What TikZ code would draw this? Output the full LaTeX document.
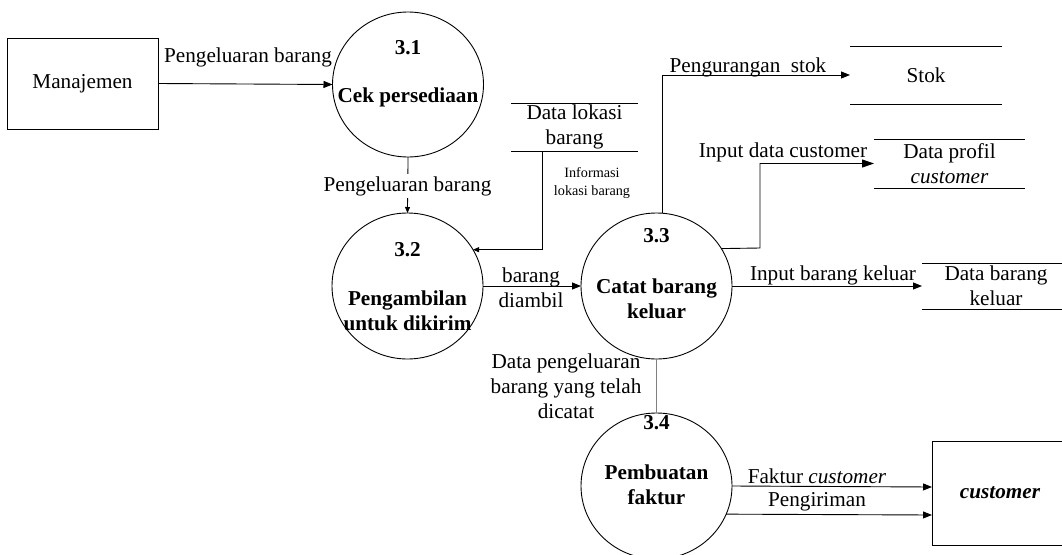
\documentclass[tikz,border=0pt]{standalone}
\usepackage{fontspec}
\setmainfont{Liberation Serif}
\usetikzlibrary{arrows.meta,shapes.geometric,calc}
\begin{document}
\begin{tikzpicture}[x=1pt,y=-1pt,
  every node/.style={font=\fontsize{21.2pt}{25pt}\selectfont, inner sep=0pt, outer sep=0pt},
  proc/.style={ellipse, draw, line width=0.9pt, minimum width=151pt, minimum height=146pt},
  ptext/.style={font=\fontsize{21.2pt}{25pt}\selectfont\bfseries, align=center},
  entbox/.style={draw, line width=0.9pt},
  storebox/.style={align=center},
  storeline/.style={line width=0.9pt},
  lbl/.style={align=center},
  smalllbl/.style={font=\fontsize{14.2pt}{18pt}\selectfont, align=center},
  flow/.style={draw, line width=0.9pt, -{Triangle[length=9pt,width=7pt]}},
  bigflow/.style={draw, line width=0.9pt, -{Triangle[length=12pt,width=8pt]}},
  smallflow/.style={draw, line width=0.8pt, -{Triangle[length=6pt,width=5pt]}},
  plainflow/.style={draw, line width=1.2pt, gray}
]
\useasboundingbox (0,0) rectangle (1062,554);
\clip (0,0) rectangle (1062,554);

% external entities
\node[entbox, minimum width=151pt, minimum height=91pt] (man) at (82.5,83.5) {Manajemen};
\node[entbox, minimum width=136pt, minimum height=104pt] (cust) at (1000,493) {\bfseries\itshape customer};

% processes
\node[proc, minimum height=145pt] (p31) at (408,84.5) {};
\node[ptext] (n31) at (408,48) {3.1};
\node[ptext] (t31) at (408,97) {Cek persediaan};

\node[proc] (p32) at (407.5,286) {};
\node[ptext] (n32) at (407.5,250) {3.2};
\node[ptext] (t32) at (407.5,310.5) {Pengambilan\\untuk dikirim};

\node[proc] (p33) at (656.5,286) {};
\node[ptext] (n33) at (656.5,236) {3.3};
\node[ptext] (t33) at (656.5,298.5) {Catat barang\\keluar};

\node[proc] (p34) at (656.5,486) {};
\node[ptext] (n34) at (656.5,423) {3.4};
\node[ptext] (t34) at (656.5,485) {Pembuatan\\faktur};

% data stores
\node[storebox, minimum width=127pt, minimum height=48pt] (dls) at (574.5,127) {Data lokasi\\barang};
\node[storebox, minimum width=152pt, minimum height=58pt] (stok) at (926,75) {Stok};
\node[storebox, minimum width=151pt, minimum height=49pt] (dpc) at (949.5,163.5) {Data profil\\\textit{customer}};
\node[storebox, minimum width=148pt, minimum height=46pt] (dbk) at (996,286) {Data barang\\keluar};
\foreach \s in {dls,stok,dpc,dbk}
  \draw[storeline] (\s.north west) -- (\s.north east) (\s.south west) -- (\s.south east);

% helper points for bent flows
\coordinate (c1) at (542,151);
\coordinate (c2) at (760,248);

% data flows
\draw[flow] (man.east) -- (p31.west);
\node[lbl] (l1) at (248,57) {Pengeluaran barang};

\draw[smallflow] (p31.south) -- (p32.north);
\node[lbl, fill=white, inner ysep=2pt] (l2) at (407.5,186) {Pengeluaran barang};

\draw[smallflow] (c1) |- (p32.29.6);
\node[smalllbl] (l3) at (592,183) {Informasi\\lokasi barang};

\draw[flow] (p32.east) -- (p33.west);
\node[lbl] (l4) at (531,287.5) {barang\\diambil};

\draw[flow] (p33.85.7) |- (stok.west);
\node[lbl] (l5) at (748,67) {Pengurangan\ \ stok};

\draw[bigflow] (p33.30.5) -- (c2) |- (dpc.west);
\node[lbl] (l6) at (783,152) {Input data customer};

\draw[flow] (p33.east) -- (dbk.west);
\node[lbl] (l7) at (833,275) {Input barang keluar};

\draw[plainflow] (p33.south) -- (p34.north);
\node[lbl] (l8) at (566,386) {Data pengeluaran\\barang yang telah\\dicatat};

\draw[flow] (p34.east) -- ($(cust.west)+(0,-6)$);
\node[lbl] (l9) at (817,476) {Faktur \textit{customer}};

\draw[flow] (p34.-22.7) -- ($(cust.west)+(0,22)$);
\node[lbl] (l10) at (817,502) {Pengiriman};
\end{tikzpicture}
\end{document}
